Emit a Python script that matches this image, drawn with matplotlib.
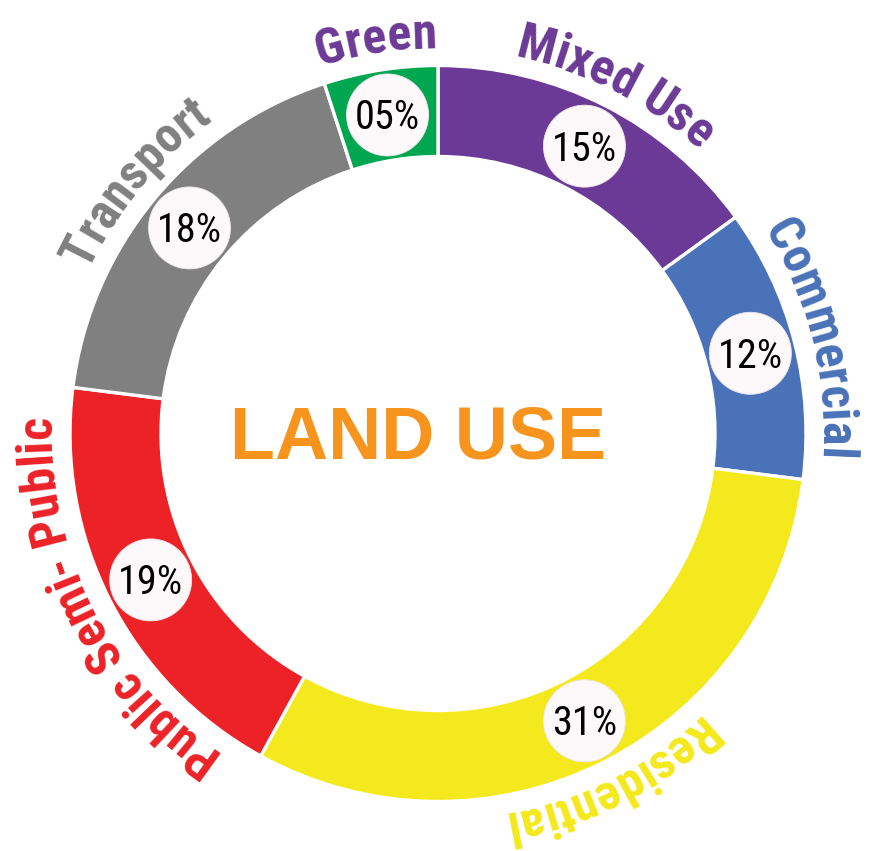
import matplotlib
matplotlib.use('Agg')
import matplotlib.pyplot as plt
from matplotlib.patches import Circle
from matplotlib.font_manager import FontProperties, fontManager
from matplotlib.backends.backend_agg import get_hinting_flag
import numpy as np

# data, clockwise from 12 o'clock
categories = ['Mixed Use', 'Commercial', 'Residential', 'Public Semi- Public', 'Transport', 'Green']
shares = [15, 12, 31, 19, 18, 5]
ring_colors = ['#6b3a96', '#4a72b8', '#f4e91c', '#ec2227', '#808080', '#00a650']
label_colors = ['#6b3a96', '#4a72b8', '#f4e91c', '#ec2227', '#808080', '#6b3a96']
title = 'LAND USE'

W, H = 871, 851
CX, CY = 438, 417.5
R_OUT, RING_W = 368, 91
R_MID = R_OUT - RING_W / 2
R_LBL = 385
PX = 100 / 72.0


def pick_font(bold):
    # narrow / condensed face if there is one
    want = 700 if bold else 400
    for fam in ['Liberation Sans Narrow', 'Roboto Condensed', 'Open Sans Condensed', 'DejaVu Sans']:
        for f in fontManager.ttflist:
            w = f.weight if isinstance(f.weight, int) else (700 if 'bold' in str(f.weight) else 400)
            narrow = 'Narrow' in f.name or 'Condensed' in f.name or 'ondensed' in str(f.stretch) \
                or 'Condensed' in f.fname or 'Narrow' in f.fname
            if f.name.startswith(fam.split()[0]) and narrow and abs(w - want) < 150 and f.style == 'normal':
                return FontProperties(fname=f.fname)
    return FontProperties(family='DejaVu Sans', weight='bold' if bold else 'normal')


fp_bold = pick_font(True)
fp_reg = pick_font(False)

fig = plt.figure(figsize=(W / 100, H / 100), dpi=100)
ax = fig.add_axes([0, 0, 1, 1])
rend = fig.canvas.get_renderer()


def tw(s, size):
    p = fp_bold.copy(); p.set_size(size)
    return rend.get_text_width_height_descent(s, p, ismath=False)[0]


def bearing(ch, size):
    # left ink offset agg adds without rotating it
    p = fp_bold.copy(); p.set_size(size)
    font = rend._prepare_font(p)
    font.set_text(ch, 0, flags=get_hinting_flag())
    return font.get_bitmap_offset()[0] / 64.0


def arc_text(s, mid, r, size, color):
    total = tw(s, size)
    start = np.radians(mid) + total / 2 / r
    for i, ch in enumerate(s):
        if ch == ' ':
            continue
        c = tw(s[:i + 1], size) - tw(ch, size) / 2
        th = start - c / r
        rot = np.degrees(th) - 90
        a = np.radians(rot)
        xo = bearing(ch, size)
        x = CX + r * np.cos(th) + xo * (np.cos(a) - 1)
        y = CY + r * np.sin(th) + xo * np.sin(a)
        ax.text(x, y, ch, rotation=rot, rotation_mode='anchor', ha='center', va='baseline',
                fontproperties=fp_bold, fontsize=size, color=color)


wedges, _ = ax.pie(shares, colors=ring_colors, startangle=90, counterclock=False,
                   radius=R_OUT, center=(CX, CY),
                   wedgeprops=dict(width=RING_W, edgecolor='white', linewidth=2.4))
ax.set_xlim(0, W); ax.set_ylim(0, H); ax.set_aspect('equal'); ax.axis('off')

for w, name, v, lc in zip(wedges, categories, shares, label_colors):
    mid = (w.theta1 + w.theta2) / 2
    t = np.radians(mid)
    x, y = CX + R_MID * np.cos(t), CY + R_MID * np.sin(t)
    ax.add_patch(Circle((x, y), 41, fc='#fdf8fa', ec='#ece4e8', lw=0.6, zorder=3))
    ax.text(x, y - 0.72 * 29 * PX / 2, f'{v:02d}%', ha='center', va='baseline',
            fontproperties=fp_reg, fontsize=29, color='black', zorder=4)
    arc_text(name, mid, R_LBL, 36, lc)

ax.text(418, 418 - 0.72 * 53 * PX / 2, title, ha='center', va='baseline', fontsize=53,
        fontweight='bold', color='#f7941e', family=['Liberation Sans', 'DejaVu Sans'])

fig.savefig('out.png', dpi=100, facecolor='white')
